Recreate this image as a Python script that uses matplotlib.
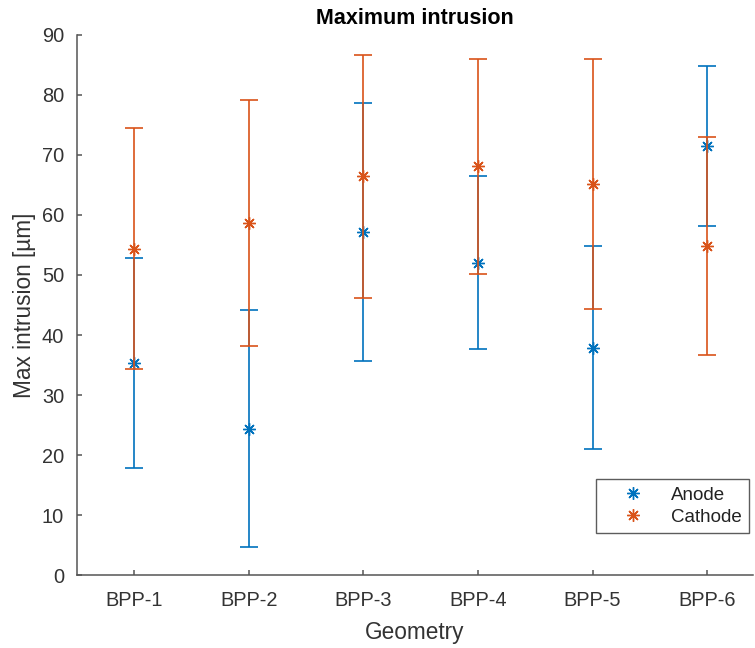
import numpy as np
import matplotlib.pyplot as plt
from matplotlib.lines import Line2D

plt.rcParams['font.family'] = ['Liberation Sans', 'DejaVu Sans']

# geometry labels
geometries = ['BPP-1', 'BPP-2', 'BPP-3', 'BPP-4', 'BPP-5', 'BPP-6']

# anode mean and error
anode_mean = [35.4, 24.4, 57.2, 52.0, 37.9, 71.5]
anode_err = [17.5, 19.7, 21.5, 14.4, 16.9, 13.3]

# cathode mean and error
cathode_mean = [54.4, 58.6, 66.4, 68.1, 65.1, 54.8]
cathode_err = [20.1, 20.5, 20.2, 17.9, 20.8, 18.2]

blue = '#0072BD'
orange = '#D95319'
axc = '#555555'
txtc = '#333333'
star = (8, 2, 0)

W, H = 755, 648
fig = plt.figure(figsize=(W / 100, H / 100), dpi=100)
ax = fig.add_axes([76.7 / W, (H - 575.3) / H, (753 - 76.7) / W, (575.3 - 34.7) / H])

x = np.arange(1, len(geometries) + 1)
ax.errorbar(x, anode_mean, yerr=anode_err, fmt='none', ecolor=blue,
            elinewidth=1.2, capsize=6.5, capthick=1.2)
ax.plot(x, anode_mean, linestyle='none', marker=star, color=blue,
        markersize=9, markeredgewidth=1.0)
ax.errorbar(x, cathode_mean, yerr=cathode_err, fmt='none', ecolor=orange,
            elinewidth=1.2, capsize=6.5, capthick=1.2)
ax.plot(x, cathode_mean, linestyle='none', marker=star, color=orange,
        markersize=9, markeredgewidth=1.0)

ax.set_xlim(0.5, 6.4)
ax.set_ylim(0, 90)
ax.set_yticks(np.arange(0, 91, 10))
ax.set_xticks(x)
ax.set_xticklabels(geometries)

for s in ['top', 'right']:
    ax.spines[s].set_visible(False)
for s in ['left', 'bottom']:
    ax.spines[s].set_color(axc)
    ax.spines[s].set_linewidth(1.1)
ax.tick_params(direction='in', length=3.5, width=1.1, color=axc,
               labelcolor=txtc, labelsize=14.4)
ax.tick_params(axis='x', pad=11)
ax.tick_params(axis='y', pad=9)

ax.set_title('Maximum intrusion', fontsize=15.5, fontweight='bold', pad=8)
ax.set_xlabel('Geometry', fontsize=16.3, color=txtc, labelpad=8)
ax.set_ylabel('Max intrusion [µm]', fontsize=16.3, color=txtc, labelpad=4)

handles = [
    Line2D([], [], linestyle='none', marker=star, color=blue, markersize=9, markeredgewidth=1.0),
    Line2D([], [], linestyle='none', marker=star, color=orange, markersize=9, markeredgewidth=1.0),
]
leg = ax.legend(handles, ['Anode', 'Cathode'], loc='lower right',
                bbox_to_anchor=(0.994, 0.078), borderaxespad=0,
                fontsize=13.5, frameon=True, fancybox=False,
                edgecolor=txtc, handletextpad=0.4, borderpad=0.4,
                labelspacing=0.25, handlelength=3.2)
leg.get_frame().set_linewidth(1.0)
for t in leg.get_texts():
    t.set_color('#222222')

fig.savefig('out.png', dpi=100)
